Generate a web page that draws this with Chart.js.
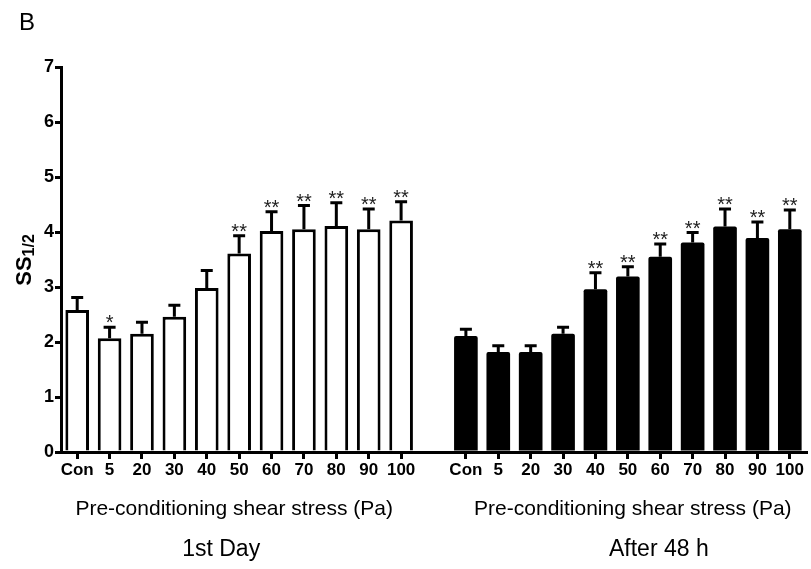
<!DOCTYPE html>
<html>
<head>
<meta charset="utf-8">
<script src="https://cdn.jsdelivr.net/npm/chart.js@4.4.1/dist/chart.umd.min.js"></script>
<style>
  html, body { margin: 0; padding: 0; background: #fff; }
  #wrap { width: 811px; height: 569px; }
</style>
</head>
<body>
<div id="wrap"><canvas id="mycanvas" width="811" height="569"></canvas></div>
<script>
// shear stress levels (Pa)
var doses = ['Con', '5', '20', '30', '40', '50', '60', '70', '80', '90', '100'];

// 1st day
var day1Mean = [2.58, 2.07, 2.15, 2.46, 2.98, 3.61, 4.02, 4.05, 4.11, 4.05, 4.21];
var day1Err  = [0.23, 0.20, 0.21, 0.21, 0.32, 0.32, 0.35, 0.43, 0.42, 0.37, 0.34];
var day1Sig  = ['', '*', '', '', '', '**', '**', '**', '**', '**', '**'];

// after 48 h
var h48Mean = [2.11, 1.82, 1.82, 2.15, 2.96, 3.19, 3.55, 3.81, 4.10, 3.89, 4.05];
var h48Err  = [0.12, 0.11, 0.11, 0.12, 0.30, 0.18, 0.23, 0.18, 0.32, 0.29, 0.35];
var h48Sig  = ['', '', '', '', '**', '**', '**', '**', '**', '**', '**'];

var yTicks = [0, 1, 2, 3, 4, 5, 6, 7];
var xTitle = 'Pre-conditioning shear stress (Pa)';
var groupNames = ['1st Day', 'After 48 h'];

// one empty slot between the two groups
var labels = doses.concat(['']).concat(doses);
var gap = doses.length;
var blank = doses.map(function(){ return null; });

var d1 = day1Mean.concat([null]).concat(blank);
var d2 = blank.concat([null]).concat(h48Mean);
var errs = day1Err.concat([null]).concat(h48Err);
var sigs = day1Sig.concat(['']).concat(h48Sig);

var errorBars = {
  id: 'errorBars',
  afterDatasetsDraw: function(chart) {
    var ctx = chart.ctx;
    var y = chart.scales.y;
    ctx.save();
    ctx.strokeStyle = '#000';
    ctx.lineWidth = 3;
    chart.data.datasets.forEach(function(ds, di) {
      var meta = chart.getDatasetMeta(di);
      meta.data.forEach(function(bar, i) {
        if (ds.data[i] == null) return;
        var top = y.getPixelForValue(ds.data[i] + errs[i]);
        var x = bar.x;
        ctx.beginPath();
        ctx.moveTo(x, bar.y);
        ctx.lineTo(x, top);
        ctx.moveTo(x - 6, top);
        ctx.lineTo(x + 6, top);
        ctx.stroke();
        if (sigs[i]) {
          ctx.fillStyle = '#222';
          ctx.font = '20px Arial';
          ctx.textAlign = 'center';
          ctx.textBaseline = 'alphabetic';
          ctx.fillText(sigs[i], x, top + 2);
        }
      });
    });
    ctx.restore();
  }
};

var extraText = {
  id: 'extraText',
  afterDraw: function(chart) {
    var ctx = chart.ctx;
    var x = chart.scales.x;
    ctx.save();
    ctx.fillStyle = '#000';
    ctx.textAlign = 'center';
    ctx.textBaseline = 'middle';
    // panel letter
    ctx.font = '24px Arial';
    ctx.fillText('B', 27, 23);

    var c1 = (x.getPixelForValue(0) + x.getPixelForValue(gap - 1)) / 2;
    var c2 = (x.getPixelForValue(gap + 1) + x.getPixelForValue(labels.length - 1)) / 2;
    ctx.font = '21px Arial';
    ctx.fillText(xTitle, c1 - 5, 509);
    ctx.fillText(xTitle, c2 + 5, 509);
    ctx.font = '23px Arial';
    ctx.fillText(groupNames[0], c1 - 18, 550);
    ctx.fillText(groupNames[1], c2 + 31, 550);

    // y title SS1/2
    ctx.translate(31, 260);
    ctx.rotate(-Math.PI / 2);
    ctx.textAlign = 'left';
    ctx.textBaseline = 'alphabetic';
    ctx.font = 'bold 22px Arial';
    var w = ctx.measureText('SS').width;
    ctx.font = 'bold 16px Arial';
    var w2 = ctx.measureText('1/2').width;
    var sx = -(w + w2) / 2;
    ctx.font = 'bold 22px Arial';
    ctx.fillText('SS', sx, 0);
    ctx.font = 'bold 16px Arial';
    ctx.fillText('1/2', sx + w, 3);
    ctx.restore();
  }
};

var ctx = document.getElementById('mycanvas');

var chartdata = {
  labels: labels,
  datasets: [
    {
      label: groupNames[0],
      data: d1,
      backgroundColor: '#fff',
      borderColor: '#000',
      borderWidth: 3,
      borderSkipped: 'start'
    },
    {
      label: groupNames[1],
      data: d2,
      backgroundColor: '#000',
      borderColor: '#000',
      borderWidth: 0,
      borderRadius: 2
    }
  ]
};

var barGraph = new Chart(ctx, {
  type: 'bar',
  data: chartdata,
  plugins: [errorBars, extraText],
  options: {
    responsive: false,
    animation: false,
    devicePixelRatio: 1,
    layout: { padding: { top: 67, right: 5, left: 0, bottom: 0 } },
    datasets: { bar: { grouped: false, barPercentage: 0.73, categoryPercentage: 1 } },
    plugins: { legend: { display: false }, tooltip: { enabled: false } },
    scales: {
      x: {
        offset: true,
        border: { color: '#000', width: 3 },
        grid: {
          drawOnChartArea: false,
          drawTicks: true,
          tickLength: 7,
          offset: false,
          lineWidth: 3,
          color: function(c) { return c.index === gap ? 'rgba(0,0,0,0)' : '#000'; }
        },
        ticks: {
          color: '#000',
          font: { family: 'Arial', size: 17, weight: 'bold' },
          padding: 1,
          maxRotation: 0,
          autoSkip: false
        },
        afterFit: function(scale) { scale.height = 117; }
      },
      y: {
        min: 0,
        max: 7,
        border: { color: '#000', width: 3 },
        grid: { drawOnChartArea: false, drawTicks: true, tickLength: 6, lineWidth: 3, color: '#000' },
        afterBuildTicks: function(scale) {
          scale.ticks = yTicks.map(function(v){ return { value: v }; });
        },
        ticks: {
          color: '#000',
          font: { family: 'Arial', size: 18, weight: 'bold' },
          padding: 1
        },
        afterFit: function(scale) { scale.width = 61; }
      }
    }
  }
});
</script>
</body>
</html>
